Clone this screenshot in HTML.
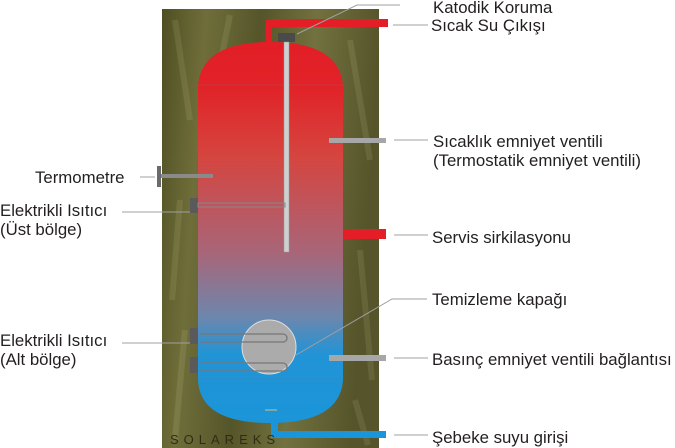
<!DOCTYPE html>
<html><head><meta charset="utf-8"><style>
html,body{margin:0;padding:0;background:#fff;width:675px;height:448px;overflow:hidden}
svg text{font-family:"Liberation Sans",Arial,sans-serif;font-size:16.8px;fill:#231f20}
</style></head><body>
<svg width="675" height="448" viewBox="0 0 675 448" xmlns="http://www.w3.org/2000/svg">
<defs>
<linearGradient id="ins" x1="0" y1="0" x2="1" y2="0.15">
<stop offset="0" stop-color="#4f4e22"/><stop offset="0.2" stop-color="#6f6e3a"/>
<stop offset="0.45" stop-color="#55552a"/><stop offset="0.7" stop-color="#72713f"/>
<stop offset="1" stop-color="#55542a"/></linearGradient>
<linearGradient id="wat" x1="0" y1="42" x2="0" y2="423" gradientUnits="userSpaceOnUse">
<stop offset="0" stop-color="#e31e26"/><stop offset="0.12" stop-color="#e12328"/>
<stop offset="0.3" stop-color="#d5453f"/><stop offset="0.55" stop-color="#a96578"/>
<stop offset="0.72" stop-color="#6e86ac"/><stop offset="0.82" stop-color="#2194d6"/>
<stop offset="1" stop-color="#1b95d9"/></linearGradient>
</defs>
<rect x="162" y="9" width="217" height="439" fill="url(#ins)"/>
<g opacity="0.12" stroke="#d8d8a0" stroke-width="6">
<path d="M175 20 L190 120 M230 15 L215 90 M350 40 L370 160 M180 200 L172 300 M360 250 L372 380 M185 330 L175 440 M355 400 L368 445"/>
</g>
<path d="M198 85 Q202 42 270 42 Q339 42 343 85 L343 380 Q340 423 270 423 Q200 423 198 380 Z" fill="url(#wat)"/>
<line x1="198" y1="85" x2="343" y2="85" stroke="#b8404a" stroke-width="0.8"/>
<line x1="198" y1="379" x2="343" y2="379" stroke="#3a8ac0" stroke-width="0.8"/>
<rect x="266" y="20" width="6" height="23" fill="#e31e26"/>
<rect x="272" y="19" width="116" height="8" fill="#e31e26"/>
<rect x="278" y="33" width="17" height="9" fill="#4a4a4a"/>
<rect x="284" y="42" width="5" height="210" fill="#cfcfcf" stroke="#999" stroke-width="0.5"/>
<rect x="329" y="138" width="57" height="5" fill="#a7a7a7"/>
<rect x="157" y="166" width="4" height="21" fill="#6b6b6b"/>
<rect x="161" y="174" width="52" height="4" fill="#8a8a8a"/>
<rect x="190" y="198" width="8" height="15" fill="#5a5a5a"/>
<rect x="198" y="203" width="87" height="4" fill="none" stroke="#888" stroke-width="1"/>
<rect x="344" y="229" width="42" height="10" fill="#e31e26"/>
<rect x="190" y="328" width="8" height="16" fill="#5a5a5a"/>
<rect x="190" y="357" width="8" height="16" fill="#5a5a5a"/>
<circle cx="269" cy="347" r="27" fill="#ababab" stroke="#ddd" stroke-width="1"/>
<path d="M200 334 H283 a4 4 0 0 1 0 8 H200" fill="none" stroke="#777" stroke-width="1.3"/>
<path d="M200 363 H283 a4 4 0 0 1 0 8 H200" fill="none" stroke="#777" stroke-width="1.3"/>
<rect x="329" y="355" width="57" height="6" fill="#a7a7a7"/>
<rect x="265" y="409" width="12" height="2" fill="#7aa"/>
<rect x="271" y="420" width="7" height="18" fill="#1b95d9"/>
<rect x="271" y="431" width="115" height="7" fill="#1b95d9"/>
<text x="170" y="444" style="font-size:13px;letter-spacing:5px;fill:#2f2e15">SOLAREKS</text>
<g stroke="#a0a0a0" stroke-width="1" fill="none">
<polyline points="400,5 357,5 297,34"/>
<line x1="393" y1="25" x2="428" y2="25"/>
<line x1="394" y1="140" x2="428" y2="140"/>
<line x1="140" y1="177" x2="155" y2="177"/>
<line x1="122" y1="212" x2="190" y2="212"/>
<line x1="394" y1="235" x2="428" y2="235"/>
<polyline points="427,299 392,299 296,355"/>
<line x1="122" y1="343" x2="190" y2="343"/>
<line x1="394" y1="358" x2="428" y2="358"/>
<line x1="394" y1="435" x2="428" y2="435"/>
</g>
<text x="433" y="13">Katodik Koruma</text>
<text x="431" y="31">Sıcak Su Çıkışı</text>
<text x="433" y="147">Sıcaklık emniyet ventili</text>
<text x="433" y="166">(Termostatik emniyet ventili)</text>
<text x="35" y="183">Termometre</text>
<text x="0" y="216">Elektrikli Isıtıcı</text>
<text x="0" y="235">(Üst bölge)</text>
<text x="432" y="243">Servis sirkilasyonu</text>
<text x="432" y="305">Temizleme kapağı</text>
<text x="0" y="346">Elektrikli Isıtıcı</text>
<text x="0" y="365">(Alt bölge)</text>
<text x="432" y="365">Basınç emniyet ventili bağlantısı</text>
<text x="432" y="443">Şebeke suyu girişi</text>
</svg>
</body></html>
